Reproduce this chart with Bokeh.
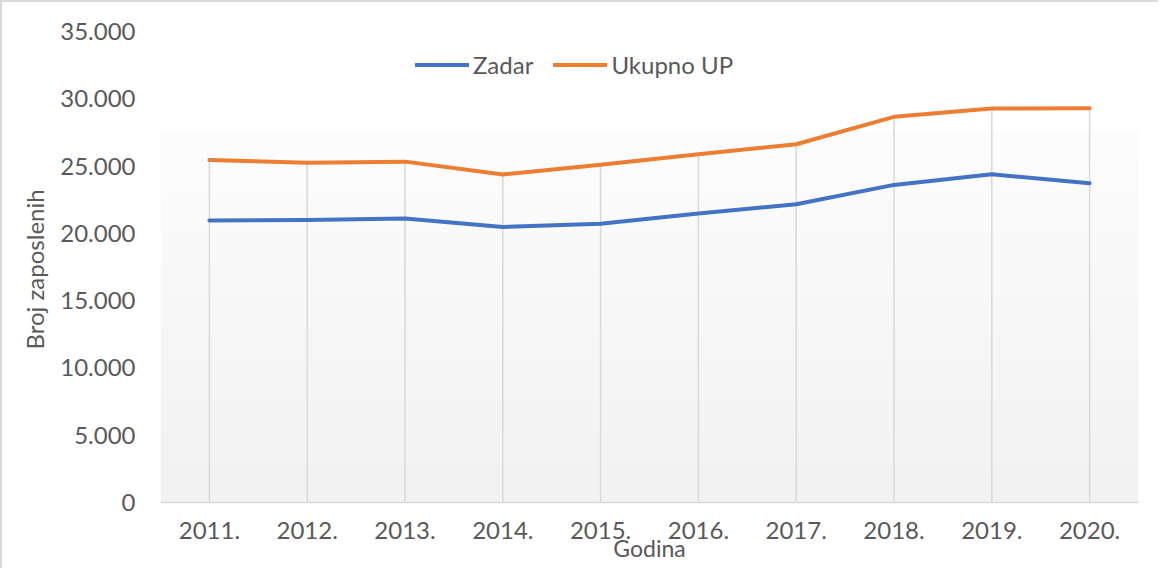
import numpy as np
from bokeh.plotting import figure
from bokeh.models import (FactorRange, Range1d, FixedTicker, Legend, LegendItem, Title)
from bokeh.embed import file_html
from bokeh.resources import INLINE

# ---- data ----
years = ["2011.", "2012.", "2013.", "2014.", "2015.", "2016.", "2017.", "2018.", "2019.", "2020."]
zadar = [20950, 21000, 21100, 20480, 20710, 21470, 22160, 23600, 24390, 23720]
ukupno_up = [25460, 25240, 25330, 24370, 25100, 25880, 26620, 28660, 29270, 29290]
series_names = ["Zadar", "Ukupno UP"]
y_ticks = [0, 5000, 10000, 15000, 20000, 25000, 30000, 35000]
y_tick_labels = ["0", "5.000", "10.000", "15.000", "20.000", "25.000", "30.000", "35.000"]
x_title = "Godina"
y_title = "Broj zaposlenih"

# ---- style ----
FONT = "Lato"
TXT = "#595959"
BLUE = "#4472C4"
ORANGE = "#ED7D31"
GRID = "#d9d9d9"
FS = "24px"
W, H = 1158, 568
ML, MR, MT = 158, 22, 29
AXIS_PX = 471      # pixel height of 0..35000
BELOW_PX = 68      # pixels below the zero line kept for axis texts
y_max = 35000
y_min = -y_max * BELOW_PX / AXIS_PX

p = figure(x_range=FactorRange(factors=years, range_padding=0),
           y_range=Range1d(y_min, y_max),
           width=W, height=H,
           output_backend="svg", toolbar_location=None,
           min_border_left=ML, min_border_right=MR,
           min_border_top=MT, min_border_bottom=0)
p.styles = {"border-top": "2px solid #d9d9d9", "border-left": "2px solid #d9d9d9"}
p.outline_line_color = None
p.background_fill_color = "white"
p.border_fill_color = "white"
p.xgrid.visible = False
p.ygrid.visible = False

# plot-area gradient (decorative)
grad_top = 27700
n = 200
vals = np.linspace(242, 253, n)
img = np.zeros((n, 1), dtype=np.uint32)
view = img.view(dtype=np.uint8).reshape((n, 1, 4))
for i in range(n):
    g = int(vals[i])
    view[i, 0, 0] = g
    view[i, 0, 1] = g
    view[i, 0, 2] = g
    view[i, 0, 3] = 255
p.image_rgba(image=[img], x=0, y=0, dw=len(years), dh=grad_top)

# drop lines
p.segment(x0=years, y0=[0] * len(years), x1=years, y1=ukupno_up,
          line_color=GRID, line_width=1.5)

r1 = p.line(years, zadar, line_color=BLUE, line_width=4, line_cap="round", line_join="round")
r2 = p.line(years, ukupno_up, line_color=ORANGE, line_width=4, line_cap="round", line_join="round")

legend = Legend(items=[LegendItem(label=series_names[0], renderers=[r1]),
                       LegendItem(label=series_names[1], renderers=[r2])],
                orientation="horizontal", location=(255, 423 + BELOW_PX),
                padding=0, margin=0, spacing=20, label_standoff=4,
                glyph_width=54, glyph_height=29, label_height=29,
                border_line_color=None, background_fill_alpha=0,
                label_text_font=FONT, label_text_font_size=FS,
                label_text_color=TXT)
p.add_layout(legend)

# x axis drawn on the zero line
ax = p.xaxis[0]
ax.fixed_location = 0
ax.axis_line_color = GRID
ax.axis_line_width = 1.5
ax.major_tick_line_color = None
ax.minor_tick_line_color = None
ax.major_tick_out = 0
ax.major_label_standoff = 19
ax.major_label_text_font = FONT
ax.major_label_text_font_size = FS
ax.major_label_text_color = TXT
ax.axis_label = x_title
ax.axis_label_text_font = FONT
ax.axis_label_text_font_size = "23px"
ax.axis_label_text_color = TXT
ax.axis_label_text_font_style = "normal"
ax.axis_label_standoff = -8

ay = p.yaxis[0]
ay.ticker = FixedTicker(ticks=y_ticks)
ay.major_label_overrides = {t: l for t, l in zip(y_ticks, y_tick_labels)}
ay.axis_line_color = None
ay.major_tick_line_color = None
ay.minor_tick_line_color = None
ay.major_tick_out = 0
ay.major_label_standoff = 25
ay.major_label_text_font = FONT
ay.major_label_text_font_size = FS
ay.major_label_text_color = TXT

p.add_layout(Title(text=y_title, align="left", offset=221, standoff=17,
                   text_font=FONT, text_font_size=FS, text_color=TXT,
                   text_font_style="normal"), "left")

open("out.html", "w").write(file_html(p, INLINE))
